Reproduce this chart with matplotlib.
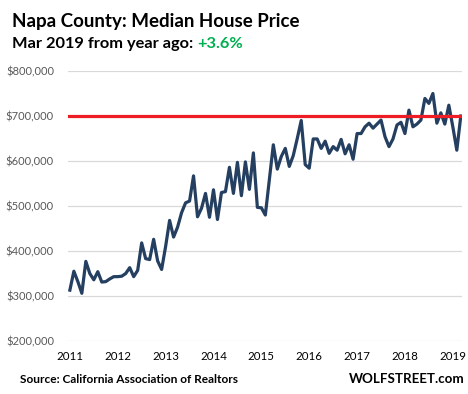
import numpy as np
import matplotlib
matplotlib.use('Agg')
import matplotlib.pyplot as plt
from matplotlib.ticker import FuncFormatter

# median house price, $ thousands, monthly Jan 2011 .. Mar 2019
price_2011 = [313, 355, 332, 306, 377, 350, 336, 354, 331, 332, 338, 343]
price_2012 = [343, 344, 350, 363, 343, 357, 418, 383, 381, 426, 378, 359]
price_2013 = [410, 468, 431, 453, 485, 507, 511, 567, 476, 495, 528, 475]
price_2014 = [536, 470, 530, 532, 586, 528, 597, 523, 598, 537, 618, 497]
price_2015 = [496, 480, 558, 636, 582, 610, 628, 588, 612, 650, 690, 592]
price_2016 = [584, 649, 649, 628, 644, 617, 632, 624, 648, 616, 636, 604]
price_2017 = [661, 661, 676, 684, 673, 682, 691, 654, 632, 649, 680, 686]
price_2018 = [661, 713, 676, 682, 691, 739, 728, 750, 684, 707, 682, 724]
price_2019 = [676, 624, 700]

prices = np.array(price_2011 + price_2012 + price_2013 + price_2014 + price_2015
                  + price_2016 + price_2017 + price_2018 + price_2019) * 1000
months = 2011 + np.arange(len(prices)) / 12.0

years = list(range(2011, 2020))
ref_level = 700000

plt.rcParams['font.family'] = ['Lato', 'DejaVu Sans']

fig = plt.figure(figsize=(4.68, 3.94), dpi=100)
ax = fig.add_axes([0.145, 0.1345, 0.842, 0.6853])

ax.plot(months, prices, color='#243F60', lw=2.3, solid_joinstyle='round', zorder=3)
ax.axhline(ref_level, color='#EE1C25', lw=2.3, zorder=4)

ax.set_ylim(200000, 800000)
ax.set_yticks(np.arange(200000, 800001, 100000))
ax.yaxis.set_major_formatter(FuncFormatter(lambda v, p: '${:,.0f}'.format(v)))
ax.set_xlim(2010.958, 2019.19)
ax.set_xticks(years)
ax.set_xticklabels([str(y) for y in years])

ax.grid(axis='y', color='#D9D9D9', lw=0.9)
ax.set_axisbelow(True)
for s in ax.spines.values():
    s.set_visible(False)
ax.tick_params(axis='both', length=0)
ax.tick_params(axis='y', labelsize=8, labelcolor='#595959', pad=10)
ax.tick_params(axis='x', labelsize=8.3, labelcolor='black', pad=7)

fig.text(0.026, 0.932, 'Napa County: Median House Price', fontsize=13.5,
         fontweight='bold', ha='left', va='baseline')
sub = fig.text(0.026, 0.878, 'Mar 2019 from year ago: ', fontsize=11.8,
               fontweight='bold', ha='left', va='baseline')
ax.annotate('+3.6%', xy=(1, 0), xycoords=sub, fontsize=11.8, fontweight='bold',
            color='#00B050', ha='left', va='bottom', annotation_clip=False)

fig.text(0.043, 0.029, 'Source: California Association of Realtors', fontsize=8.6,
         fontweight='bold', ha='left', va='baseline')
fig.text(0.993, 0.029, 'WOLFSTREET.com', fontsize=9.6, fontweight='bold',
         ha='right', va='baseline')

fig.savefig('out.png', dpi=100)
